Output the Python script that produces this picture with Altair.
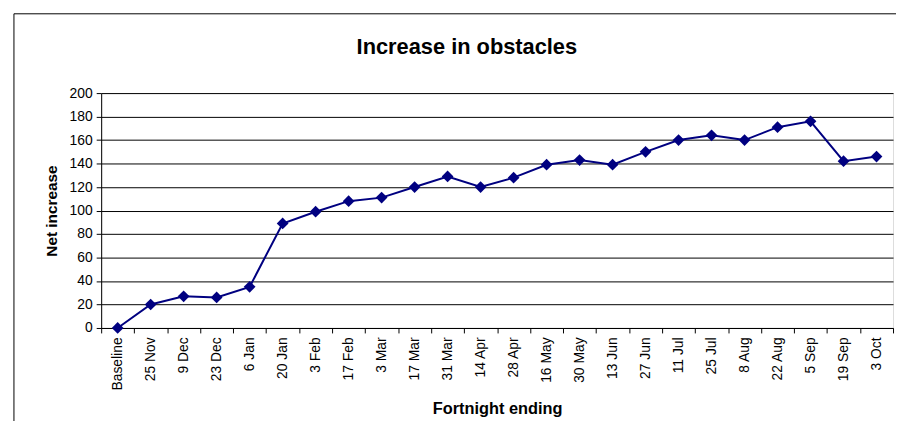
import altair as alt
import pandas as pd

categories = ["Baseline", "25 Nov", "9 Dec", "23 Dec", "6 Jan", "20 Jan", "3 Feb", "17 Feb",
              "3 Mar", "17 Mar", "31 Mar", "14 Apr", "28 Apr", "16 May", "30 May", "13 Jun",
              "27 Jun", "11 Jul", "25 Jul", "8 Aug", "22 Aug", "5 Sep", "19 Sep", "3 Oct"]
net_increase = [0, 20, 27, 26, 35, 89, 99, 108, 111, 120, 129, 120, 128, 139, 143, 139,
                150, 160, 164, 160, 171, 176, 142, 146]
y_ticks = [0, 20, 40, 60, 80, 100, 120, 140, 160, 180, 200]
chart_title = "Increase in obstacles"

df = pd.DataFrame({"Fortnight": categories, "Net": net_increase})

FONT = "Liberation Sans"
W, H = 799, 237
NAVY = "#000080"

x_enc = alt.X("Fortnight:N", sort=categories,
              scale=alt.Scale(type="band", paddingInner=0, paddingOuter=0),
              axis=alt.Axis(title="Fortnight ending", labelAngle=270, labelAlign="right",
                            labelBaseline="middle", labelPadding=4, tickBand="extent",
                            tickSize=5, tickColor="black", domainColor="black",
                            labelFontSize=14, labelFont=FONT, labelColor="black",
                            titleFont=FONT, titleFontSize=16.5, titleFontWeight="bold",
                            titleColor="black", titleBaseline="alphabetic", titleY=86,
                            grid=False))
y_enc = alt.Y("Net:Q", scale=alt.Scale(domain=[0, 200], nice=False),
              axis=alt.Axis(title="Net increase", values=y_ticks, tickSize=5,
                            tickColor="black", domainColor="black", labelFontSize=14,
                            labelFont=FONT, labelColor="black", labelPadding=4,
                            titleFont=FONT, titleFontSize=15.5, titleFontWeight="bold",
                            titleColor="black", titleBaseline="alphabetic", titleX=-45,
                            grid=True, gridColor="black", gridWidth=1, gridOpacity=1))

line = alt.Chart(df).mark_line(color=NAVY, strokeWidth=2).encode(x=x_enc, y=y_enc)
points = alt.Chart(df).mark_point(shape="diamond", filled=True, size=140, color=NAVY,
                                  opacity=1).encode(x=x_enc, y=y_enc)

frame = alt.Chart(alt.Data(values=[{"f": 1}])).mark_rect(
    filled=False, stroke="black", strokeWidth=1, clip=False
).encode(x=alt.value(-88), x2=alt.value(W + 40), y=alt.value(-80), y2=alt.value(H + 200))

title = alt.Chart(alt.Data(values=[{"t": chart_title}])).mark_text(
    font=FONT, fontSize=22, fontWeight="bold", color="black", align="center",
    baseline="alphabetic", clip=False
).encode(text="t:N", x=alt.value(369), y=alt.value(-39))

chart = alt.layer(frame, title, line, points).properties(
    width=W, height=H,
    padding={"left": 94, "top": 84, "right": 3, "bottom": 92},
    autosize="none",
).configure_view(stroke="#808080", strokeWidth=2).configure(background="white")

chart.save("out.html", embed_options={"renderer": "svg", "actions": False})
